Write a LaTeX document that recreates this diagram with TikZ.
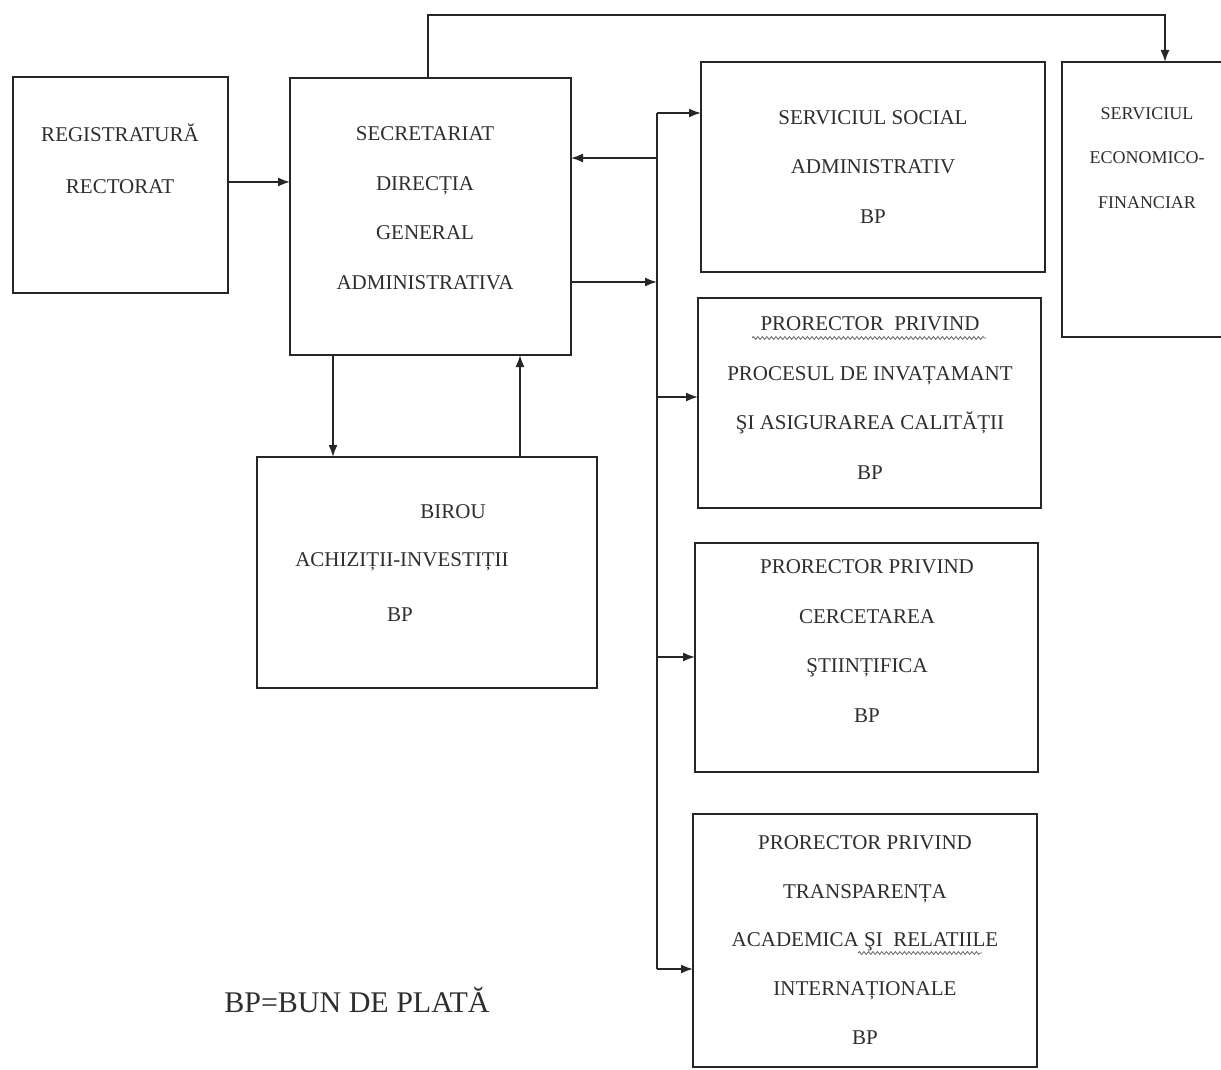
\documentclass[tikz,border=0pt]{standalone}
\usepackage{fontspec}
\setmainfont{Liberation Serif}
\usetikzlibrary{arrows.meta,decorations.pathmorphing}
\begin{document}
\begin{tikzpicture}[x=1pt,y=-1pt,
  box/.style={draw=black!85, line width=1.9pt, rectangle, inner sep=0pt, outer sep=0pt},
  txt/.style={align=center, text=black!82, font=\fontsize{21}{49.5}\selectfont, inner sep=0pt},
  conn/.style={draw=black!85, line width=1.7pt},
  arr/.style={conn, -{Latex[length=12pt,width=9pt]}},
  squig/.style={draw=black!60, line width=0.8pt, decorate, decoration={snake, amplitude=1.4pt, segment length=4.5pt}}]
\useasboundingbox (0,0) rectangle (1221,1070);
\fill[white] (0,0) rectangle (1221,1070);
\begin{scope}
\clip (0,0) rectangle (1221,1070);
% boxes
\node[box, minimum width=215pt, minimum height=216pt] (reg) at (120.5,185) {};
\node[box, minimum width=281pt, minimum height=277pt] (sec) at (430.5,216.5) {};
\node[box, minimum width=340pt, minimum height=231pt] (bir) at (427,572.5) {};
\node[box, minimum width=344pt, minimum height=210pt] (soc) at (873,167) {};
\node[box, minimum width=178pt, minimum height=275pt] (eco) at (1151,199.5) {};
\node[box, minimum width=343pt, minimum height=210pt] (pro1) at (869.5,403) {};
\node[box, minimum width=343pt, minimum height=229pt] (pro2) at (866.5,657.5) {};
\node[box, minimum width=344pt, minimum height=253pt] (pro3) at (865,940.5) {};
% texts
\node[txt, font=\fontsize{21}{52}\selectfont] (regt) at (120,159) {REGISTRATURĂ\\RECTORAT};
\node[txt] (sect) at (425,208) {SECRETARIAT\\DIRECȚIA\\GENERAL\\ADMINISTRATIVA};
\node[txt] (birt1) at (453,512) {BIROU};
\node[txt] (birt2) at (402,562) {ACHIZIȚII-INVESTIȚII};
\node[txt] (birt3) at (400,615) {BP};
\node[txt] (soct) at (873,167) {SERVICIUL SOCIAL\\ADMINISTRATIV\\BP};
\node[txt, font=\fontsize{18}{44.5}\selectfont] (ecot) at (1147,158) {SERVICIUL\\ECONOMICO-\\FINANCIAR};
\node[txt] (pro1t) at (870,398) {PRORECTOR\ \ PRIVIND\\PROCESUL DE INVAȚAMANT\\ŞI ASIGURAREA CALITĂȚII\\BP};
\node[txt] (pro2t) at (867,641) {PRORECTOR PRIVIND\\CERCETAREA\\ŞTIINȚIFICA\\BP};
\node[txt, font=\fontsize{21}{48.75}\selectfont] (pro3t) at (865,940) {PRORECTOR PRIVIND\\TRANSPARENȚA\\ACADEMICA ŞI\ \ RELATIILE\\INTERNAȚIONALE\\BP};
\node[text=black!82, font=\fontsize{30}{30}\selectfont, inner sep=0pt] (leg) at (357,1000) {BP=BUN DE PLATĂ};
% spell-check squiggles
\draw[squig] (752,338) -- (986,338);
\draw[squig] (858,953) -- (982,953);
% bus
\coordinate (bt) at (657,113);
\coordinate (bb) at (657,969);
\coordinate (b1) at (657,158);
\coordinate (b2) at (657,282);
\coordinate (b3) at (657,397);
\coordinate (b4) at (657,657);
\draw[conn] (bt) -- (bb);
\draw[arr] (bt) -- (soc.west |- bt);
\draw[arr] (b1) -- (sec.east |- b1);
\draw[arr] (sec.east |- b2) -- (b2);
\draw[arr] (b3) -- (pro1.west |- b3);
\draw[arr] (b4) -- (pro2.west |- b4);
\draw[arr] (bb) -- (pro3.west |- bb);
% other connectors
\draw[arr] (reg.east |- 0,182) -- (sec.west |- 0,182);
\draw[arr] (sec.north -| 428,0) -- (428,15) -- (1165,15) -- (eco.north -| 1165,0);
\draw[arr] (sec.south -| 333,0) -- (bir.north -| 333,0);
\draw[arr] (bir.north -| 520,0) -- (sec.south -| 520,0);
\end{scope}
\end{tikzpicture}
\end{document}
